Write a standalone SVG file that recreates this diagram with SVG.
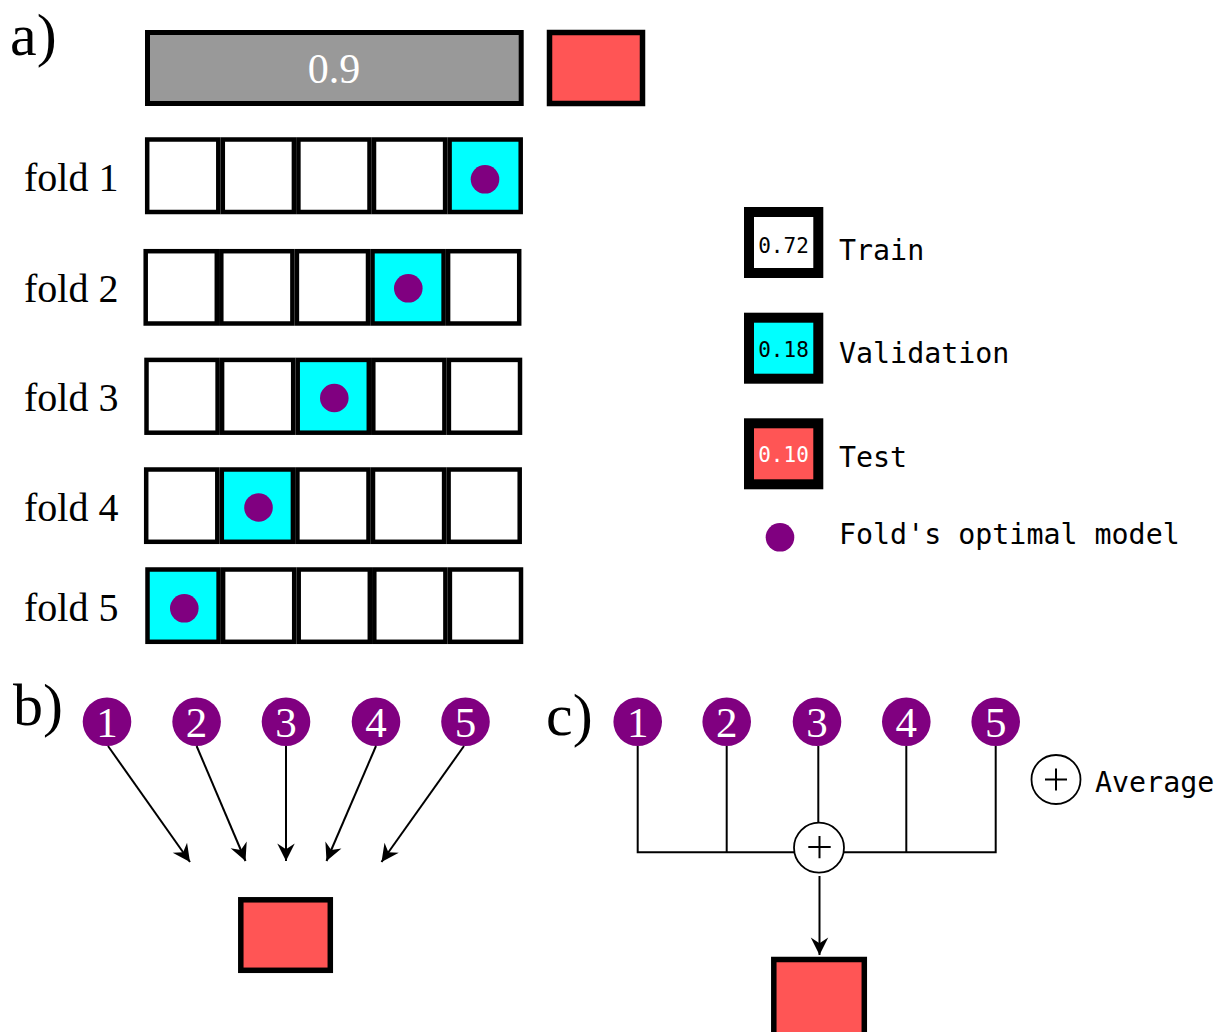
<svg xmlns="http://www.w3.org/2000/svg" width="1225" height="1032" viewBox="0 0 1225 1032">
  <defs>
    <style>
      .serif { font-family: "Liberation Serif", "Times New Roman", serif; }
      .mono { font-family: "DejaVu Sans Mono", "Liberation Mono", monospace; }
      .panel { font-size: 60px; fill: #000; }
      .fold { font-size: 40px; fill: #000; }
      .cell { fill: #fff; stroke: #000; stroke-width: 4.5; }
      .val { fill: #00ffff; }
      .dot { fill: #800080; }
      .test { fill: #ff5555; stroke: #000; stroke-width: 5.5; }
      .lgbox { stroke: #000; stroke-width: 10; }
      .lgnum { font-size: 21px; text-anchor: middle; }
      .lgtxt { font-size: 28.3px; fill: #000; }
      .model { fill: #800080; }
      .num { font-size: 43px; fill: #fff; text-anchor: middle; }
      .wire { stroke: #000; stroke-width: 2; fill: none; }
      .avg { fill: #fff; stroke: #000; stroke-width: 1.8; }
    </style>
    <marker id="arrow" markerUnits="userSpaceOnUse" markerWidth="20" markerHeight="20" viewBox="-15 -8 16 16" refX="0" refY="0" orient="auto">
      <path d="M0,0 L-14,-7 L-9.5,0 L-14,7 Z" fill="#000"/>
    </marker>
  </defs>

  <rect width="1225" height="1032" fill="#fff"/>

  <!-- panel a: data split -->
  <text class="serif panel" x="10" y="55">a)</text>
  <g id="full-train">
    <rect x="147.5" y="32.5" width="373.7" height="71" fill="#999999" stroke="#000" stroke-width="5"/>
    <text class="serif" x="334" y="83" font-size="42" fill="#fff" text-anchor="middle">0.9</text>
  </g>
  <g id="full-test">
    <rect class="test" x="549.5" y="32.5" width="93" height="71" stroke-width="5"/>
  </g>

  <!-- fold 1 -->
  <g id="fold1">
    <text class="serif fold" x="24" y="191">fold 1</text>
    <rect class="cell" x="147.2" y="139.5" width="71.1" height="72.5"/>
    <rect class="cell" x="222.8" y="139.5" width="71.1" height="72.5"/>
    <rect class="cell" x="298.4" y="139.5" width="71.1" height="72.5"/>
    <rect class="cell" x="374.0" y="139.5" width="71.1" height="72.5"/>
    <rect class="cell val" x="449.6" y="139.5" width="71.1" height="72.5"/>
    <circle class="dot" cx="485" cy="179.3" r="14.3"/>
  </g>

  <!-- fold 2 -->
  <g id="fold2">
    <text class="serif fold" x="24" y="302">fold 2</text>
    <rect class="cell" x="145.7" y="251.2" width="71.1" height="72.3"/>
    <rect class="cell" x="221.3" y="251.2" width="71.1" height="72.3"/>
    <rect class="cell" x="296.9" y="251.2" width="71.1" height="72.3"/>
    <rect class="cell val" x="372.5" y="251.2" width="71.1" height="72.3"/>
    <rect class="cell" x="448.1" y="251.2" width="71.1" height="72.3"/>
    <circle class="dot" cx="408.3" cy="288.3" r="14.3"/>
  </g>

  <!-- fold 3 -->
  <g id="fold3">
    <text class="serif fold" x="24" y="411">fold 3</text>
    <rect class="cell" x="146.5" y="359.9" width="71.1" height="72.8"/>
    <rect class="cell" x="222.1" y="359.9" width="71.1" height="72.8"/>
    <rect class="cell val" x="297.7" y="359.9" width="71.1" height="72.8"/>
    <rect class="cell" x="373.3" y="359.9" width="71.1" height="72.8"/>
    <rect class="cell" x="448.9" y="359.9" width="71.1" height="72.8"/>
    <circle class="dot" cx="334.3" cy="398" r="14.3"/>
  </g>

  <!-- fold 4 -->
  <g id="fold4">
    <text class="serif fold" x="24" y="521">fold 4</text>
    <rect class="cell" x="146.2" y="469.5" width="71.1" height="72.3"/>
    <rect class="cell val" x="221.8" y="469.5" width="71.1" height="72.3"/>
    <rect class="cell" x="297.4" y="469.5" width="71.1" height="72.3"/>
    <rect class="cell" x="373.0" y="469.5" width="71.1" height="72.3"/>
    <rect class="cell" x="448.6" y="469.5" width="71.1" height="72.3"/>
    <circle class="dot" cx="258.5" cy="507.5" r="14.3"/>
  </g>

  <!-- fold 5 -->
  <g id="fold5">
    <text class="serif fold" x="24" y="621">fold 5</text>
    <rect class="cell val" x="147.5" y="569.5" width="71.1" height="72.3"/>
    <rect class="cell" x="223.1" y="569.5" width="71.1" height="72.3"/>
    <rect class="cell" x="298.7" y="569.5" width="71.1" height="72.3"/>
    <rect class="cell" x="374.3" y="569.5" width="71.1" height="72.3"/>
    <rect class="cell" x="449.9" y="569.5" width="71.1" height="72.3"/>
    <circle class="dot" cx="184.3" cy="608.3" r="14.3"/>
  </g>

  <!-- legend -->
  <g id="legend-train">
    <rect class="lgbox" x="749" y="212" width="69.3" height="61" fill="#fff"/>
    <text class="mono lgnum" x="783.5" y="253.3" fill="#000">0.72</text>
    <text class="mono lgtxt" x="839" y="260">Train</text>
  </g>
  <g id="legend-validation">
    <rect class="lgbox" x="749" y="317.7" width="69.3" height="61" fill="#00ffff"/>
    <text class="mono lgnum" x="783.5" y="356.7" fill="#000">0.18</text>
    <text class="mono lgtxt" x="839" y="363.3">Validation</text>
  </g>
  <g id="legend-test">
    <rect class="lgbox" x="749" y="423.3" width="69.3" height="61" fill="#ff5555"/>
    <text class="mono lgnum" x="783.5" y="462.3" fill="#fff">0.10</text>
    <text class="mono lgtxt" x="839" y="466.7">Test</text>
  </g>
  <g id="legend-model">
    <circle class="model" cx="780" cy="537.3" r="14.3"/>
    <text class="mono lgtxt" x="839" y="544">Fold's optimal model</text>
  </g>

  <!-- panel b: each fold model evaluated on test -->
  <text class="serif panel" x="13" y="725">b)</text>
  <g id="b-model1"><circle class="model" cx="107" cy="721.7" r="24.3"/><text class="serif num" x="107" y="737">1</text></g>
  <g id="b-model2"><circle class="model" cx="196.6" cy="721.7" r="24.3"/><text class="serif num" x="196.6" y="737">2</text></g>
  <g id="b-model3"><circle class="model" cx="286" cy="721.7" r="24.3"/><text class="serif num" x="286" y="737">3</text></g>
  <g id="b-model4"><circle class="model" cx="376" cy="721.7" r="24.3"/><text class="serif num" x="376" y="737">4</text></g>
  <g id="b-model5"><circle class="model" cx="465.5" cy="721.7" r="24.3"/><text class="serif num" x="465.5" y="737">5</text></g>
  <g id="b-test">
    <rect class="test" x="240.8" y="899.8" width="89.5" height="70.5"/>
  </g>

  <!-- panel c: averaged fold models evaluated on test -->
  <text class="serif panel" x="546" y="735">c)</text>
  <g id="c-model1"><circle class="model" cx="637.7" cy="721.7" r="24.3"/><text class="serif num" x="637.7" y="737">1</text></g>
  <g id="c-model2"><circle class="model" cx="726.7" cy="721.7" r="24.3"/><text class="serif num" x="726.7" y="737">2</text></g>
  <g id="c-model3"><circle class="model" cx="817" cy="721.7" r="24.3"/><text class="serif num" x="817" y="737">3</text></g>
  <g id="c-model4"><circle class="model" cx="906.3" cy="721.7" r="24.3"/><text class="serif num" x="906.3" y="737">4</text></g>
  <g id="c-model5"><circle class="model" cx="995.7" cy="721.7" r="24.3"/><text class="serif num" x="995.7" y="737">5</text></g>
  <g id="c-test">
    <rect class="test" x="773.8" y="959.5" width="90.5" height="80"/>
  </g>
  <g id="legend-average">
    <circle class="avg" cx="1056" cy="779.5" r="24.5"/>
    <path class="wire" d="M1045,779.5 H1067 M1056,768.5 V790.5" stroke-width="1.8"/>
    <text class="mono lgtxt" x="1095" y="791.7">Average</text>
  </g>

  <!-- connectors -->
  <g id="connectors">
    <!-- panel b arrows -->
    <line class="wire" x1="108" y1="746" x2="190" y2="862" marker-end="url(#arrow)"/>
    <line class="wire" x1="196.6" y1="746" x2="245.5" y2="861" marker-end="url(#arrow)"/>
    <line class="wire" x1="286" y1="746" x2="286" y2="861" marker-end="url(#arrow)"/>
    <line class="wire" x1="376" y1="746" x2="326.5" y2="861" marker-end="url(#arrow)"/>
    <line class="wire" x1="464" y1="746" x2="381.5" y2="862" marker-end="url(#arrow)"/>
    <!-- panel c bus into the averaging node -->
    <path class="wire" d="M637.7,746 V852.3 H995.7 V746"/>
    <line class="wire" x1="726.7" y1="746" x2="726.7" y2="852.3"/>
    <line class="wire" x1="906.3" y1="746" x2="906.3" y2="852.3"/>
    <line class="wire" x1="818.3" y1="746" x2="818.3" y2="823"/>
    <line class="wire" x1="819.5" y1="876" x2="819.5" y2="955" marker-end="url(#arrow)"/>
  </g>

  <!-- averaging node sits over the bus -->
  <g id="c-average">
    <circle class="avg" cx="819" cy="847.7" r="25"/>
    <path class="wire" d="M808.3,847 H830.7 M819.5,836 V858.3" stroke-width="1.8"/>
  </g>
</svg>
